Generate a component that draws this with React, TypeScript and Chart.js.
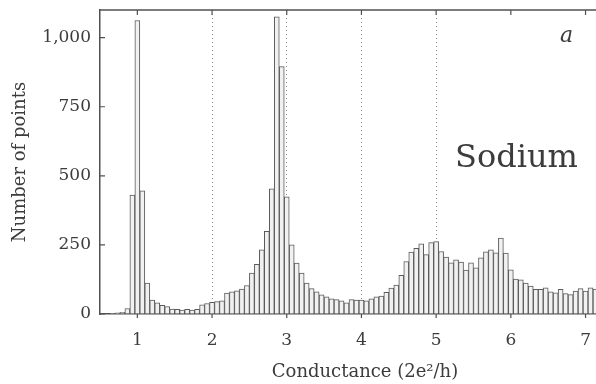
import React, { useEffect, useRef } from 'react';
import { Chart, registerables } from 'chart.js';

Chart.register(...registerables);

// Histogram of conductance values measured on sodium point contacts.
// Bins are 1/15 of a conductance quantum wide; the first bin is centred at 1 - 7/15.
const BIN_WIDTH = 1 / 15;
const FIRST_BIN_CENTER = 1 - 7 * BIN_WIDTH;

const COUNTS = [
  0, 0, 2, 4, 6, 20, 430, 1062, 446, 112,
  50, 40, 31, 27, 18, 17, 14, 17, 14, 17,
  33, 38, 42, 45, 48, 76, 80, 84, 90, 103,
  148, 180, 232, 299, 453, 1075, 895, 424, 250, 184,
  148, 112, 92, 80, 69, 62, 55, 52, 48, 40,
  52, 50, 50, 48, 55, 62, 65, 78, 94, 105,
  140, 190, 224, 238, 254, 215, 258, 262, 226, 206,
  185, 196, 188, 159, 185, 167, 203, 225, 232, 221,
  275, 220, 160, 126, 124, 112, 101, 89, 89, 95,
  80, 77, 89, 74, 70, 83, 92, 83, 95, 90,
];

const X_TICKS = [1, 2, 3, 4, 5, 6, 7];
const Y_TICKS = [0, 250, 500, 750, 1000];
const GRID_VALUES = [2, 3, 4, 5];

const X_MIN = 0.5;
const X_MAX = 7.14;
const Y_MAX = 1100;

const X_TITLE = 'Conductance (2e²/h)';

const FONT = '"DejaVu Serif", "Liberation Serif", serif';
const TEXT_COLOR = '#3c3c3c';
const AXIS_COLOR = '#505050';

const frameAndLabels = {
  id: 'frameAndLabels',
  afterDraw(chart: any) {
    const { ctx, chartArea, scales } = chart;
    const { left, right, top, bottom } = chartArea;
    const x = scales.x;
    const y = scales.y;
    ctx.save();
    // top frame line
    ctx.strokeStyle = AXIS_COLOR;
    ctx.lineWidth = 1.5;
    ctx.beginPath();
    ctx.moveTo(left, top);
    ctx.lineTo(right, top);
    ctx.stroke();
    // tick marks
    ctx.lineWidth = 1.2;
    ctx.beginPath();
    X_TICKS.forEach((v) => {
      const px = x.getPixelForValue(v);
      ctx.moveTo(px, top);
      ctx.lineTo(px, top + 5);
      ctx.moveTo(px, bottom);
      ctx.lineTo(px, bottom + 4);
    });
    Y_TICKS.forEach((v) => {
      const py = y.getPixelForValue(v);
      ctx.moveTo(left, py);
      ctx.lineTo(left + 5, py);
    });
    ctx.stroke();
    // annotations
    ctx.fillStyle = TEXT_COLOR;
    ctx.textBaseline = 'alphabetic';
    ctx.textAlign = 'left';
    ctx.font = `32px ${FONT}`;
    ctx.fillText('Sodium', right - 141, top + 157);
    ctx.textAlign = 'right';
    ctx.font = `italic 22px ${FONT}`;
    ctx.fillText('a', right - 23, top + 32);
    // x-axis title, set slightly right of the plot centre
    ctx.textAlign = 'center';
    ctx.textBaseline = 'middle';
    ctx.font = `18px ${FONT}`;
    ctx.fillText(X_TITLE, (left + right) / 2 + 17, bottom + 58);
    ctx.restore();
  },
};

export default function App() {
  const canvasRef = useRef<HTMLCanvasElement | null>(null);

  useEffect(() => {
    const canvas = canvasRef.current;
    if (!canvas) return;
    const points = COUNTS.map((c, i) => ({ x: FIRST_BIN_CENTER + i * BIN_WIDTH, y: c }));

    const chart = new Chart(canvas, {
      type: 'bar',
      data: {
        datasets: [
          {
            data: points as any,
            backgroundColor: '#f1f1f1',
            borderColor: '#5a5a5a',
            borderWidth: 1,
            barPercentage: 1,
            categoryPercentage: 1,
          },
        ],
      },
      options: {
        responsive: false,
        animation: false,
        layout: { padding: { left: 8, top: 10, right: 0, bottom: 0 } },
        plugins: {
          legend: { display: false },
          tooltip: { enabled: false },
        },
        scales: {
          x: {
            type: 'linear',
            min: X_MIN,
            max: X_MAX,
            offset: false,
            afterBuildTicks: (scale: any) => {
              scale.ticks = X_TICKS.map((v) => ({ value: v }));
            },
            afterFit: (scale: any) => {
              scale.height = 70;
              scale.paddingLeft = 0;
              scale.paddingRight = 0;
            },
            ticks: {
              font: { family: FONT, size: 17 },
              color: TEXT_COLOR,
              padding: 3,
              maxRotation: 0,
              callback: (v: any) => String(v),
            },
            grid: {
              offset: false,
              drawOnChartArea: true,
              drawTicks: true,
              tickLength: 13,
              tickColor: 'rgba(0,0,0,0)',
              lineWidth: 1,
              color: (ctx: any) =>
                ctx.tick && GRID_VALUES.includes(ctx.tick.value) ? 'rgba(110,110,110,0.8)' : 'rgba(0,0,0,0)',
            },
            border: { display: true, color: AXIS_COLOR, width: 1.5, dash: [1, 3] },
            title: { display: false },
          },
          y: {
            min: 0,
            max: Y_MAX,
            afterBuildTicks: (scale: any) => {
              scale.ticks = Y_TICKS.map((v) => ({ value: v }));
            },
            afterFit: (scale: any) => {
              scale.width = 92;
              scale.paddingTop = 0;
              scale.paddingBottom = 0;
            },
            ticks: {
              font: { family: FONT, size: 17 },
              color: TEXT_COLOR,
              padding: 9,
              callback: (v: any) => Number(v).toLocaleString('en-US'),
            },
            grid: { drawOnChartArea: false, drawTicks: false },
            border: { display: true, color: AXIS_COLOR, width: 1.5 },
            title: {
              display: true,
              text: 'Number of points',
              font: { family: FONT, size: 18 },
              color: TEXT_COLOR,
              padding: { top: 2, bottom: 4 },
            },
          },
        },
      },
      plugins: [frameAndLabels],
    });

    return () => chart.destroy();
  }, []);

  return (
    <div style={{ position: 'fixed', left: 0, top: 0, width: 596, height: 384, background: '#fff' }}>
      <canvas ref={canvasRef} width={596} height={384} style={{ display: 'block' }} />
    </div>
  );
}
